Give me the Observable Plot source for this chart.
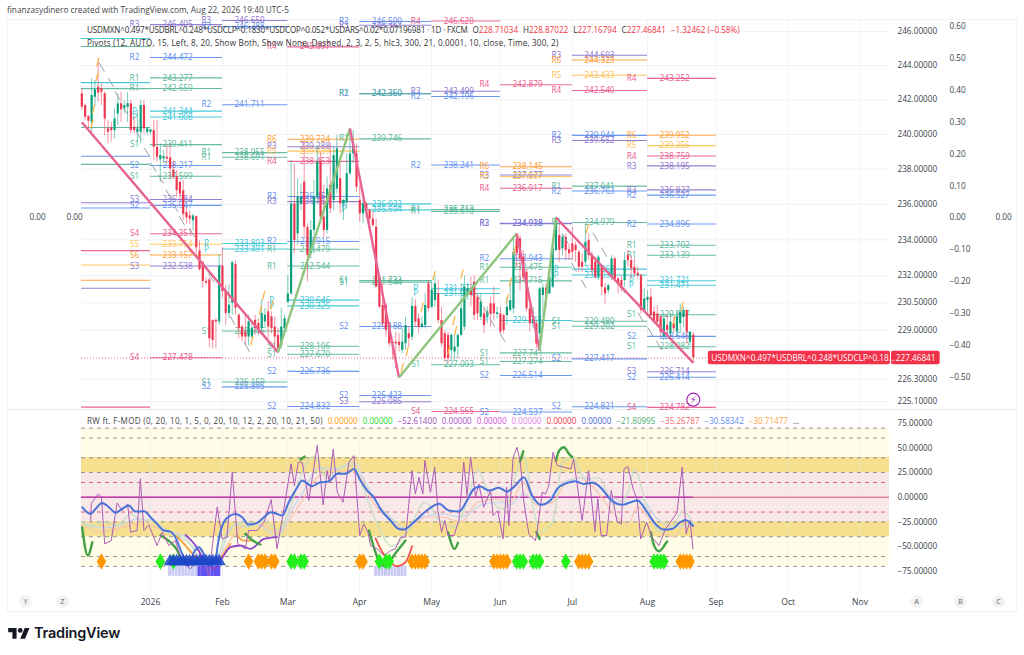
<!DOCTYPE html>
<html><head><meta charset="utf-8">
<script src="https://cdn.jsdelivr.net/npm/d3@7"></script>
<script src="https://cdn.jsdelivr.net/npm/@observablehq/plot@0.6"></script>
<style>
html,body{margin:0;padding:0;background:#fff;width:1024px;height:655px;overflow:hidden}
body{font-family:"Open Sans","Liberation Sans",sans-serif;color:#3a3f4b;position:relative}
.abs{position:absolute;white-space:nowrap}
.pane{position:absolute;left:0}
.pane svg{background:transparent;display:block;overflow:visible}
.btn{position:absolute;top:595px;width:13px;height:13px;border-radius:50%;background:#f2f3f5;color:#666;font-size:7.5px;line-height:13px;text-align:center}
.red{color:#f23645}
</style></head><body>
<div class="abs" style="left:7px;top:4px;font-size:8.28px;color:#444">finanzasydinero created with TradingView.com, Aug 22, 2026 19:40 UTC-5</div>
<div class="abs" style="left:7px;top:19px;width:1010px;height:593px;border:1px solid #f0f3fa;box-sizing:border-box"></div>
<div class="abs" style="left:7px;top:409px;width:1010px;height:1px;background:#e6e8ee"></div>
<div id="price" class="pane" style="top:19px"></div>
<div id="side" class="pane" style="top:19px"></div>
<div id="osc" class="pane" style="top:409px"></div>
<div class="abs" style="left:87px;top:24px;font-size:8.1px;color:#333;display:flex;gap:5px"><span style="letter-spacing:-.17px">USDMXN^0.497*USDBRL^0.248*USDCLP^0.1830*USDCOP^0.052*USDARS^0.02*0.07196981 · 1D · FXCM</span><span>O<span class="red">228.71034</span></span><span>H<span class="red">228.87022</span></span><span>L<span class="red">227.16794</span></span><span>C<span class="red">227.46841</span></span><span class="red">−1.32462 (−0.58%)</span></div>
<div class="abs" style="left:87px;top:37px;font-size:8.2px;color:#333;letter-spacing:.16px">Pivots (12, AUTO, 15, Left, 8, 20, Show Both, Show None, Dashed, 2, 3, 2, 5, hlc3, 300, 21, 0.0001, 10, close, Time, 300, 2)</div>
<div id="oscLegend" class="abs" style="left:87px;top:415px;font-size:8.1px;color:#444;display:flex;gap:5px"></div>
<div class="btn" style="left:19px">Y</div><div class="btn" style="left:56px">Z</div>
<div class="btn" style="left:910px">A</div><div class="btn" style="left:954px">B</div><div class="btn" style="left:992px">C</div>
<svg class="abs" style="left:8px;top:628px" width="22" height="12" viewBox="0 0 36 20"><path fill="#131722" d="M14 18H7V7H0V0h14v18zM28 18h-8L27.5 0h8L28 18z"/><circle cx="20" cy="4" r="4" fill="#131722"/></svg>
<div class="abs" style="left:34px;top:624px;font-size:14.5px;font-weight:600;color:#131722;font-family:Inter,'Open Sans',sans-serif;letter-spacing:-.2px">TradingView</div>
<script>
const FONT='"Open Sans","Liberation Sans",sans-serif';
// ---------- candles: bar 0 = 1 Jan 2026, trading days only ----------
const firstBar=-21;
const opens=[242.35,241.67,241.03,240.70,242.15,242.74,242.64,242.35,240.32,240.38,
240.22,241.18,241.77,241.47,241.57,241.77,240.41,240.12,240.12,241.67,
240.12,240.12,240.22,239.26,238.54,238.59,238.69,238.65,237.96,237.58,
237.25,236.78,235.54,235.35,235.08,235.31,233.38,232.72,231.68,231.77,
229.53,229.53,229.44,232.53,231.12,229.91,230.47,232.62,229.81,229.16,
228.88,228.61,228.61,229.53,229.35,229.07,229.44,230.00,229.72,229.16,
228.70,228.14,229.07,230.53,230.99,236.03,234.34,236.03,237.27,234.71,
233.22,234.53,236.41,238.40,235.28,234.53,237.08,236.22,236.88,237.46,
236.03,236.12,237.74,238.88,238.88,236.22,235.47,236.03,235.66,235.18,
234.71,231.83,230.35,230.35,229.33,228.33,228.33,228.33,227.88,228.24,
228.79,228.60,230.30,229.61,229.15,229.24,231.55,230.26,230.62,230.99,
229.52,228.79,228.70,227.88,227.79,228.06,228.70,229.15,230.89,231.27,
231.64,230.80,229.70,229.89,229.70,230.44,230.44,229.85,229.88,229.79,
229.79,230.07,230.16,234.06,234.06,233.03,232.19,230.16,229.34,229.34,
228.79,230.90,231.32,230.99,231.36,233.41,234.25,233.50,234.15,233.45,
233.78,233.69,233.31,232.75,232.75,233.97,233.12,232.75,231.91,232.47,
231.32,231.17,232.00,232.94,231.82,231.73,231.73,233.12,232.84,232.47,
232.13,232.00,230.07,230.62,230.80,229.98,229.88,229.70,228.61,229.25,
228.79,229.34,228.88,229.34,229.70,230.07,228.33,228.71034];
const highs=[242.64,241.77,241.09,243.22,243.12,244.39,242.93,242.44,240.80,240.70,
241.47,242.35,242.44,241.96,242.44,241.96,240.99,241.38,241.96,241.96,
240.41,240.30,240.80,240.80,239.45,239.07,239.36,239.36,238.50,237.92,
237.35,237.35,235.83,235.64,235.44,235.35,233.94,232.82,231.87,231.87,
229.53,229.62,233.19,233.56,231.49,231.49,232.82,232.82,229.91,229.25,
229.81,229.81,229.44,229.81,229.62,230.65,230.19,230.56,230.00,229.72,
229.07,230.19,229.81,232.01,238.50,238.31,237.46,237.17,239.65,234.90,
235.09,237.36,239.36,238.98,237.08,237.55,239.46,239.26,239.94,238.69,
236.32,238.88,240.22,240.22,239.46,237.08,236.22,236.12,235.75,235.56,
235.18,231.92,231.55,230.45,229.43,228.42,228.88,228.79,229.06,229.70,
229.15,230.80,230.67,229.89,229.70,231.00,231.74,231.74,232.00,231.74,
230.26,228.97,228.88,228.79,228.79,228.79,231.55,232.00,231.55,231.92,
232.00,230.99,230.99,230.17,230.26,230.80,231.36,230.26,230.25,229.88,
230.80,231.54,234.06,234.34,234.25,233.41,232.38,230.43,230.25,229.52,
231.36,231.54,231.54,232.47,233.78,235.28,234.81,234.34,234.34,233.78,
234.72,233.87,233.41,233.22,234.81,234.34,233.31,233.03,233.12,232.56,
231.54,231.54,233.12,233.03,231.91,232.00,233.31,233.41,233.12,232.94,
232.47,232.10,231.27,231.17,231.27,230.25,230.34,229.79,229.88,229.79,
229.88,229.70,230.07,230.43,230.25,230.11,228.88,228.87022];
const lows=[241.38,240.80,240.32,239.93,241.57,241.86,241.67,239.93,239.45,239.55,
239.74,240.51,240.70,241.18,240.70,240.03,240.03,239.55,239.45,240.03,
239.93,239.98,238.50,238.41,237.25,238.31,238.31,237.44,237.44,236.40,
236.21,235.08,234.89,234.89,234.51,233.19,232.25,231.31,231.49,228.05,
227.96,227.96,229.25,230.75,229.25,229.62,229.81,229.81,228.51,228.33,
228.14,228.14,228.51,228.70,228.70,228.70,229.07,228.51,228.79,228.05,
227.77,227.96,228.98,230.44,230.89,233.22,233.69,235.65,234.06,231.64,
232.94,233.22,236.03,235.09,234.15,234.34,235.47,235.65,236.60,235.47,
235.09,235.75,237.65,238.31,236.70,234.99,234.90,235.18,234.90,234.71,
231.36,230.17,229.15,228.60,228.06,227.34,226.89,227.79,227.70,227.88,
228.06,228.42,229.15,228.79,229.06,229.06,230.00,230.17,230.26,229.33,
228.06,227.25,227.16,227.34,227.34,227.43,228.60,228.97,230.62,230.26,
229.52,229.52,229.52,228.79,229.33,229.15,229.52,229.61,228.79,228.79,
229.25,229.98,229.88,232.47,231.17,231.64,229.98,228.88,229.06,227.97,
227.97,229.79,230.25,230.94,231.27,233.31,232.75,233.12,232.84,232.84,
232.84,232.75,232.19,232.19,232.47,232.84,232.10,231.82,231.73,230.90,
230.43,230.99,231.73,231.64,230.99,231.08,231.36,232.47,231.82,231.91,
231.82,229.88,229.98,229.98,229.70,229.34,229.15,228.61,228.42,228.61,
228.61,228.79,228.61,228.79,229.15,228.24,228.15,227.16794];
const closes=[241.57,240.99,240.76,242.25,242.58,242.38,242.44,240.89,240.12,240.22,
240.89,241.77,241.42,241.67,241.77,240.22,240.22,240.32,241.67,240.32,
240.32,240.26,239.26,238.69,238.79,238.73,238.59,238.02,237.54,236.78,
236.59,235.44,235.25,235.17,235.35,233.56,232.34,231.68,231.59,228.51,
228.42,229.44,232.53,231.12,229.91,230.37,232.72,230.19,229.07,228.61,
228.61,229.44,229.07,229.07,228.98,229.91,229.81,229.16,229.07,228.61,
227.96,229.16,229.62,230.99,236.03,233.97,236.41,236.41,234.71,233.13,
234.53,236.41,238.40,235.28,234.53,236.88,235.75,238.78,239.17,236.03,
236.22,237.74,238.88,239.46,236.98,235.47,236.03,235.66,235.18,234.81,
231.36,230.26,229.33,228.97,228.24,228.24,228.24,228.15,228.33,229.24,
228.51,230.30,229.43,229.15,229.33,230.35,230.17,231.18,231.55,229.52,
228.24,227.43,227.43,228.70,228.06,228.70,230.17,231.36,231.27,230.89,
229.80,229.89,230.53,229.24,230.00,229.85,229.89,229.94,228.88,228.97,
230.25,230.62,233.31,233.22,232.94,231.91,230.16,229.34,229.70,228.24,
231.27,231.32,230.95,231.91,233.50,235.19,233.41,234.15,233.41,233.22,
233.31,233.41,232.47,232.47,233.87,233.12,232.29,231.91,233.03,231.36,
230.99,231.45,232.94,231.82,231.54,231.27,232.84,232.84,232.38,232.10,
232.00,230.07,230.71,230.80,229.79,229.43,229.43,228.88,229.61,228.97,
229.43,229.06,229.70,229.98,230.07,228.88,228.88,227.46841];
const lastClose=227.46841;
// ---------- zigzag ----------
const zigBars=[-21,39,61,76,112,119,124,166];
const zigPrices=[240.70,227.77,240.34,226.4,234.36,227.87,235.26,227.2];
const grayMarks=[[-14.9,243.9],[-12.1,243.0],[-10.1,242.25],[-7.7,241.38],[-3.6,239.93],[-1.1,238.98],[0.9,238.12],[3.2,237.44],[5.5,236.59],[7.6,235.83],[9.6,235.08],[12.7,234.4],[18.6,231.87],[25.1,229.53],[29.5,228.05],[100.4,230.8],[102.5,230.07],[104.5,229.42],[107.6,228.6],[126.9,234.06],[129.5,232.47],[132.5,231.54],[136.1,234.15],[138.7,233.31],[144.3,231.27],[149.9,229.7],[152.9,228.88],[155.5,228.15]];
const orangeMarks=[[-16.1,244.2],[-16.4,243.32],[-17.4,241.47],[-17.9,240.6],[34.6,230.9],[33.6,230.1],[31,228.4],[37.1,230.37],[77,226.93],[78.5,227.83],[86.7,232],[92.8,229.52],[93.3,228.97],[95.3,232.1],[91.2,227.88],[83.1,230.26],[109.1,230.71],[110.1,231.64],[111.3,233.41],[133.6,234.62],[162.6,230.3],[160.1,229.5]];
// ---------- pivots by month ----------
const monthBars=[0,22,42,64,86,107,129,152,173,195,217];
const monthLabels=["2026","Feb","Mar","Apr","May","Jun","Jul","Aug","Sep","Oct","Nov"];
const decPivots=[["P",245.59],["R1",245.12],["P",243.0],["R1",242.65],["S1",240.4],["S2",238.75],["S1",238.28],["S3",236.1],["S2",235.8],["S4",233.4],["S5",232.6],["S6",231.75],["S3",231.3],["S4",224.8]];
const janPivots=[["R3",246.405],["R2",244.472],["R1",243.277],["R1",242.659],["P",241.344],["P",241.008],["S1",239.411],["S2",238.217],["S1",237.599],["S3",236.284],["S2",235.947],["S4",234.351],["S5",233.754],["S6",233.157],["S3",232.538],["S4",227.478]];
const febPivots=[["R3",246.650],["R2",246.288],["R2",241.711],["R1",238.955],["R1",238.691],["P",233.803],["P",233.491],["S1",228.945],["S1",226.159],["S2",225.895]];
const marPivots=[["R4",245.097],["R6",239.724],["R3",239.288],["R5",239.039],["R4",238.453],["R2",236.454],["R3",236.158],["R2",233.915],["R1",233.479],["R1",232.544],["P",230.646],["P",230.325],["S1",228.106],["S1",227.670],["S2",226.736],["S2",224.832]];
const aprPivots=[["R2",246.590],["R3",246.367],["R2",242.360],["R1",242.350],["R1",239.746],["P",236.032],["P",235.694],["S1",231.733],["S1",231.644],["S2",229.188],["S2",225.423],["S3",225.085]];
const mayPivots=[["R4",246.620],["R3",242.499],["R2",242.196],["R2",238.241],["R1",235.713],["R1",235.610],["P",231.273],["P",231.014],["S1",227.093],["S4",224.565]];
const junPivots=[["R4",242.879],["R6",238.145],["R3",237.677],["R5",237.587],["R4",236.917],["R2",234.938],["R3",234.918],["R2",232.943],["R1",232.475],["R1",231.715],["P",229.516],["S1",227.741],["S1",227.274],["S2",226.514],["S2",224.537]];
const julPivots=[["R3",244.603],["R6",244.323],["R5",243.433],["R4",242.540],["R2",239.944],["R3",239.652],["R1",237.041],["R2",236.763],["R1",234.979],["P",232.368],["P",232.038],["S1",229.480],["S1",229.202],["S2",227.417],["S2",224.821]];
const augPivots=[["R4",243.252],["R6",239.952],["R5",239.356],["R4",238.759],["R3",238.195],["R3",236.827],["R2",236.527],["R2",234.896],["R1",233.702],["R1",233.139],["P",231.721],["P",231.471],["S1",229.837],["S2",228.646],["S1",228.082],["S3",226.714],["S2",226.414],["S4",224.782]];
const pivotColumns=[[decPivots,firstBar-0.1,0,false],[janPivots,0,22,true],[febPivots,22,42,true],[marPivots,42,64,true],[aprPivots,64,86,true],[mayPivots,86,107,true],[junPivots,107,129,true],[julPivots,129,152,true],[augPivots,152,173,true]];
// ---------- axes ----------
const priceTicks=[246,244,242,240,238,236,234,232,230.5,229,226.3,225.1];
const sideTicks=[0.6,0.5,0.4,0.3,0.2,0.1,0,-0.1,-0.2,-0.3,-0.4,-0.5];
const oscTicks=[75,50,25,0,-25,-50,-75];
// ---------- oscillator ----------
const oscLevels=[70,60,40,25,15,-15,-25,-40,-60,-70];
const rawWave=[[-18.3,-23.6],[-18.1,-6.7],[-16,3.4],[-15,0],[-14,-47.2],[-12,-43.9],[-10.2,-5.7],[-8.7,-13.5],[-7,-6.7],[-6.1,-35.4],[-4.1,-33.7],[-3.1,18.6],[-2,-33.7],[-0.5,-28],[2,-49],[3.6,-35.4],[5.6,-49],[7.6,-43.9],[9.7,-65.8],[12.2,-72.6],[15.3,-59],[17.8,-79.3],[20.4,-10.1],[21.9,-42.2],[23.4,-40.5],[25,25.4],[26.7,-47.2],[29,-52.3],[30,-33.7],[32.6,-33.7],[34.7,-25.3],[36.9,-2.3],[38.7,-52.3],[40.8,-11.8],[43,33.8],[44,11.9],[45.2,35.5],[46.4,35.5],[48.4,-3.3],[51,52.4],[52.8,-7.7],[54,27],[54.7,15.2],[55.9,49],[57.1,5.1],[58.9,-5],[60.7,35.5],[62.2,42.2],[64,-38.8],[65.2,-27],[66.5,-35.4],[67.3,-49],[69.3,-52.3],[71.4,-59],[73.4,-54],[74.9,-52.3],[76.5,-40.5],[78,-40.5],[80,27],[81,3.4],[82.1,20.3],[83.3,3.4],[83.9,37.2],[85.6,5.1],[86.9,30.4],[87.9,-13.5],[89,-35.4],[90,-23.6],[91,-38.8],[92.8,-38.8],[94.3,-23.6],[95.8,35.5],[96.8,1.7],[97.9,40.6],[99.4,0],[100.4,13.5],[101.9,-10.1],[104,6.8],[104.8,-18.5],[106.2,-13.5],[107.8,-42.2],[108.9,10.2],[109.6,-28.7],[110.9,40.6],[112.1,50.7],[113.1,35.5],[114.2,-5],[115.7,-37.1],[117.7,-43.9],[118.2,-35.4],[119.8,5.1],[120.8,3.4],[121.8,11.9],[123.1,45.6],[124.4,32.1],[128.6,28.7],[129.4,38.9],[132,-23.6],[134,27],[135.9,-34.8],[136.8,-1.7],[137.8,-38.8],[139.5,-38.8],[140.9,6.8],[142.7,-25.3],[144,-27],[144.8,28.7],[146,31.1],[147.6,8.5],[148.9,-3.3],[149.9,-42.2],[151.7,-25.3],[153.4,-40.5],[155.5,-49],[157.5,-32.1],[159,-25.3],[161,-15.8],[162.6,30.4],[163.8,-37.1],[165,-23.6],[165.9,-52.3]];
const blueWave=[[-20.9,-10.1],[-18.3,-16.9],[-16.8,-11.8],[-14.8,-5.7],[-12.7,-10.1],[-10.7,-15.8],[-8.7,-11.8],[-6.6,-8.4],[-4.6,-14.5],[-2,-14.2],[0,-20.2],[2,-27],[4.1,-33.7],[6.1,-34.8],[7.6,-40.5],[9.7,-57.4],[11.7,-69.2],[13.3,-55.7],[14.8,-50.6],[16.3,-57.4],[17.8,-69.2],[19.9,-65.8],[20.4,-52.3],[22.4,-25.3],[24.5,-18.5],[26,-16.9],[28,-20.2],[30,-27.7],[32.6,-26],[34.7,-20.2],[36.7,-15.2],[38.7,-16.9],[40.3,-18.5],[42.3,-5],[44.9,10.2],[46.4,16.9],[49.4,11.2],[52,15.2],[54.5,15.9],[57.1,23.7],[59.6,23.7],[62.2,28.7],[64.2,16.9],[66.3,6.8],[68.3,0],[70.3,-11.8],[73.4,-23.6],[75.9,-32.1],[77.4,-32.7],[80.5,-25.3],[84.1,-14.5],[88.3,-6.7],[91.2,-13.5],[94.3,-14.5],[96.8,-3.3],[98.9,8.5],[100.9,10.8],[103.5,6.8],[106.5,9.5],[109,5.8],[111.6,11.9],[114.2,20.3],[116.7,1.7],[119.3,-7.7],[122.3,-3.3],[124.4,8.5],[127.5,14.6],[129.9,16.2],[132.5,13.5],[135,14.6],[137.6,10.2],[140.7,-2.3],[144.3,-7.7],[148.9,-3.3],[151.9,-15.2],[154.4,-27],[157,-32.7],[159.5,-32.1],[162,-25.3],[163.6,-23],[165.9,-29]];
const greenRuns=[[[-20.9,-30.4],[-19.2,-59],[-17.8,-45.6]],[[3.1,-38.8],[6.1,-45.6],[8.2,-54],[9.7,-65.8]],[[29,-37.1],[30.6,-42.2],[33.6,-47.9]],[[45.9,38.2],[47.1,41.2]],[[66.8,-33.7],[68.8,-55.7],[70.3,-67.5],[71.9,-69.9],[74.4,-59],[78,-43.9]],[[91,-35.4],[93,-52.3],[94,-46.2]],[[113,36.2],[114,46.6]],[[118,-35.4],[119,-42.2]],[[124,37.2],[125,47.3],[126.4,50.7],[128,43.9],[129,40.6]],[[153,-35.4],[154,-49],[155.5,-54.7],[157.5,-47.2],[158,-44.9]]];
const redRuns=[[[68.8,-41.5],[70.9,-55.7],[72.9,-64.1],[75.4,-69.9],[78,-65.8],[80,-49.6]]];
const orangeRuns=[[[7.6,-38.8],[10.2,-47.2],[13.3,-59],[15.3,-65.8]],[[20.4,-65.8],[22.4,-57.4],[24.5,-47.2]],[[26.5,-38.8],[28.5,-43.9],[31.6,-43.9]]];
const purpleRuns=[[[10.7,-38.1],[13.8,-49],[16.8,-65.8],[19.4,-72.6],[21.4,-64.1],[24.5,-50.6],[27.5,-48.9],[30.6,-52.3],[34.7,-42.2],[38.7,-40.5]]];
const paleGreen=[[-21,-25],[-18,-30],[-15,-25],[-10,-28],[-6,-17],[-3,-23],[0,-23],[4,-34],[8,-38],[14,-52],[20,-62],[23,-38],[26,-28],[30,-30],[35,-24],[39,-34],[43,-8],[47,30],[50,42],[54,20],[58,30],[62,32],[65,10],[69,-25],[74,-50],[79,-32],[84,-5],[88,-22],[93,-30],[97,-2],[100,28],[104,-2],[108,-12],[112,25],[114,43],[117,-10],[119,-35],[123,-25],[126,35],[129,40],[133,18],[137,20],[142,-8],[146,5],[148,28],[152,-12],[156,-35],[160,-28],[163,-14],[166,-28]];
const paleBlue=[[-21,-25],[-15,-31],[-10,-29],[-4,-22],[1,-24],[5,-34],[10,-39],[15,-60],[20,-66],[24,-35],[28,-25],[33,-28],[39,-39],[43,-14],[47,7],[51,29],[57,29],[62,36],[65,20],[69,-5],[74,-22],[78,-32],[83,-20],[89,-17],[95,-20],[101,-8],[107,-5],[110,-8],[114,3],[120,-8],[126,15],[133,20],[140,2],[146,-5],[150,-2],[155,-22],[160,-30],[166,-27]];
const paleSalmon=[[-21,-28],[-15,-35],[-8,-30],[-2,-25],[3,-33],[9,-42],[14,-60],[20,-64],[24,-45],[28,-30],[34,-28],[39,-36],[43,-20],[47,0],[51,20],[58,27],[63,25],[68,-5],[74,-25],[78,-33],[84,-20],[89,-20],[95,-25],[100,-5],[106,-2],[110,-5],[114,15],[118,-8],[123,-5],[127,15],[131,20],[136,8],[142,-18],[146,-27],[149,-10],[154,-28],[160,-40],[164,-25],[166,-30]];
const orangeDiamonds=[-15,30,33,34,35,37,38,64,65,80,81,82,83,84,105,106,107,108,109,131,132,133,134,162,163,164,165];
const limeDiamonds=[3,7,43,44,46,47,70,72,73,112,113,114,117,118,119,127,154,155,156,157];
const triangleBars=[6,7,8,9,10,11,12,13,14,15,16,17,18,19,20,21];
const paleSquares=[6,7,8,9,10,11,12,13,14,69,70,71,72,73,74,75,76,77,78];
const strongSquares=[15,16,17,18,19,20,21];
const oscValues=[["0.00000","#ff9800"],["0.00000","#22e01d"],["−52.61400","#9c4fb5"],["0.00000","#a64fc9"],["0.00000","#d64fd6"],["0.00000","#e37ee3"],["0.00000","#f23645"],["0.00000","#4a63d8"],["−21.80995","#4caf70"],["−35.26787","#f2686e"],["−30.58342","#5b8def"],["−30.71477","#ff9f43"]];
// ---------- styling maps ----------
const levelColor={P:"#35c4d4",R1:"#55b597",S1:"#55b597",R2:"#5b8def",S2:"#5b8def",R3:"#8b72cc",S3:"#8b72cc",R4:"#e9588c",S4:"#e9588c",R5:"#ffc14f",S5:"#ffc14f",R6:"#ff9b2f",S6:"#ff9b2f"};
const GREEN="#0b9f7c",RED="#ee3850";
const barDomain=[-21.1,226];
const candles=closes.map((c,i)=>({bar:firstBar+i,o:opens[i],h:highs[i],l:lows[i],c}));
const pivots=pivotColumns.flatMap(([list,a,b,show])=>list.map(([k,v])=>({k,v,a,b,show})));
const labelled=pivots.filter(d=>d.show);
const zig=zigBars.map((b,i)=>({b,p:zigPrices[i]}));
const zigSegs=zig.slice(1).map((d,i)=>({a:zig[i],b:d,up:d.p>zig[i].p}));
const minus=s=>s.replace("-","−");
document.getElementById("price").append(Plot.plot({
  width:1024,height:390,marginTop:0,marginBottom:0,marginLeft:81,marginRight:135,
  style:{background:"transparent",fontFamily:FONT,fontSize:"8.2px",overflow:"visible"},
  x:{domain:barDomain,axis:null},
  y:{type:"log",domain:[224.67,246.71],axis:null},
  marks:[
    Plot.gridY(priceTicks,{stroke:"#e8eaf0",strokeOpacity:.6}),
    Plot.gridX(monthBars,{stroke:"#e8eaf0",strokeOpacity:.6}),
    Plot.axisY({anchor:"right",ticks:priceTicks,tickFormat:d=>d.toFixed(5),tickSize:0,tickPadding:8,label:null,fontSize:8.2,color:"#3a3f4b"}),
    Plot.ruleY(pivots,{y:"v",x1:"a",x2:"b",stroke:d=>levelColor[d.k],strokeWidth:1.1,strokeOpacity:.9}),
    Plot.text(labelled,{x:"a",y:"v",text:"k",dx:-16,fill:d=>levelColor[d.k],fontSize:8.2}),
    Plot.text(labelled,{x:"a",y:"v",text:d=>d.v.toFixed(3),dx:12,textAnchor:"start",fill:d=>levelColor[d.k],fontSize:8.2}),
    Plot.ruleY([lastClose],{x1:barDomain[0],x2:170.6,stroke:RED,strokeDasharray:"1,2",strokeWidth:1,strokeOpacity:.75}),
    Plot.ruleX(candles,{x:"bar",y1:"l",y2:"h",stroke:d=>d.c>=d.o?GREEN:RED,strokeWidth:.9,strokeOpacity:.6}),
    Plot.ruleX(candles,{x:"bar",y1:"o",y2:"c",stroke:d=>d.c>=d.o?GREEN:RED,strokeWidth:2.2}),
    Plot.link(grayMarks,{x1:d=>d[0]-.8,x2:d=>d[0]+.8,y1:d=>d[1]+.25,y2:d=>d[1]-.25,stroke:"#9aa0a8",strokeWidth:1}),
    Plot.link(orangeMarks,{x1:d=>d[0]-.35,x2:d=>d[0]+.35,y1:d=>d[1]-.25,y2:d=>d[1]+.25,stroke:"#ffb13d",strokeWidth:1.2}),
    Plot.link(zigSegs,{x1:d=>d.a.b,x2:d=>d.b.b,y1:d=>d.a.p,y2:d=>d.b.p,stroke:d=>d.up?"#8fc47c":"#e8628f",strokeWidth:2.4}),
    Plot.dot([[166,225.2]],{x:d=>d[0],y:d=>d[1],r:6.5,fill:"#fff",stroke:"#9c27b0",strokeWidth:1.2}),
    Plot.text([[166,225.2]],{x:d=>d[0],y:d=>d[1],text:()=>"⚡",fill:"#9c27b0",fontSize:9.5,fontFamily:"DejaVu Sans"}),
    Plot.rect([[170.6,226.3]],{x1:d=>d[0],x2:d=>d[1],y1:lastClose-.37,y2:lastClose+.37,fill:"#f0324a",rx:2}),
    Plot.rect([[226.6,241.5]],{x1:d=>d[0],x2:d=>d[1],y1:lastClose-.37,y2:lastClose+.37,fill:"#f0324a",rx:2}),
    Plot.text(["USDMXN^0.497*USDBRL^0.248*USDCLP^0.18…"],{x:171.5,y:lastClose,text:d=>d,textAnchor:"start",fill:"#fff",fontSize:8.2}),
    Plot.text([lastClose],{x:234,y:d=>d,text:d=>d.toFixed(5),fill:"#fff",fontSize:8.2})
  ]}));
document.getElementById("side").append(Plot.plot({
  width:1024,height:390,marginTop:0,marginBottom:0,marginLeft:0,marginRight:0,
  style:{background:"transparent",fontFamily:FONT,fontSize:"8.2px",pointerEvents:"none"},
  x:{axis:null},
  y:{domain:[-0.5,0.6],range:[358,6.7],axis:null},
  marks:[
    Plot.text(sideTicks,{y:d=>d,frameAnchor:"left",dx:949,text:d=>minus(d.toFixed(2)),textAnchor:"start",fill:"#3a3f4b",fontWeight:d=>d===0||Math.abs(d)===0.5?600:400}),
    Plot.text([0],{y:d=>d,frameAnchor:"left",dx:29,text:d=>d.toFixed(2),fill:"#3a3f4b"}),
    Plot.text([0],{y:d=>d,frameAnchor:"left",dx:66,text:d=>d.toFixed(2),fill:"#3a3f4b"}),
    Plot.text([0],{y:d=>d,frameAnchor:"left",dx:995,text:d=>d.toFixed(2),fill:"#3a3f4b"})
  ]}));
const runs=(list,color,w)=>list.map(r=>Plot.line(r,{x:d=>d[0],y:d=>d[1],stroke:color,strokeWidth:w,curve:"monotone-x"}));
document.getElementById("osc").append(Plot.plot({
  width:1024,height:203,marginTop:0,marginBottom:20,marginLeft:81,marginRight:135,
  style:{background:"transparent",fontFamily:FONT,fontSize:"8.2px"},
  x:{domain:barDomain,axis:null},
  y:{domain:[-96.5,88.9],axis:null},
  marks:[
    Plot.rect([[25,70],[-25,-70]],{x1:barDomain[0],x2:barDomain[1],y1:d=>d[0],y2:d=>d[1],fill:"#fffde8"}),
    Plot.rect([[-25,25]],{x1:barDomain[0],x2:barDomain[1],y1:d=>d[0],y2:d=>d[1],fill:"#f8e8e8"}),
    Plot.rect([[25,40],[-40,-25]],{x1:barDomain[0],x2:barDomain[1],y1:d=>d[0],y2:d=>d[1],fill:"#f6df8e"}),
    Plot.gridX(monthBars,{stroke:"#e8eaf0",strokeOpacity:.5}),
    Plot.ruleY(oscLevels,{stroke:d=>Math.abs(d)===15?"#d9536f":"#8a8a7a",strokeDasharray:"4,4",strokeWidth:.9}),
    Plot.ruleY([0],{stroke:"#d9536f",strokeWidth:1}),
    Plot.ruleY([0],{x1:barDomain[0],x2:166,stroke:"#c13bb0",strokeWidth:1.6}),
    Plot.axisY({anchor:"right",ticks:oscTicks,tickFormat:d=>minus(d.toFixed(5)),tickSize:0,tickPadding:8,label:null,fontSize:8.2,color:"#3a3f4b"}),
    Plot.axisX({anchor:"bottom",ticks:monthBars,tickFormat:d=>monthLabels[monthBars.indexOf(d)],tickSize:0,tickPadding:6,label:null,fontSize:8.6,color:"#3a3f4b",fontWeight:d=>d===0?700:400}),
    Plot.rect(paleSquares,{x1:d=>d-.5,x2:d=>d+.5,y1:-70,y2:-80.3,fill:"#c3c3f5",stroke:"#fff",strokeWidth:.3,fillOpacity:.9}),
    Plot.rect(strongSquares,{x1:d=>d-.5,x2:d=>d+.5,y1:-70,y2:-80.3,fill:"#4433ee",fillOpacity:.85}),
    ...[[paleSalmon,"#f6c9ae"],[paleBlue,"#c9d8ea"],[paleGreen,"#c8dec6"]].map(([r,c])=>Plot.line(r,{x:d=>d[0],y:d=>d[1],stroke:c,strokeWidth:1.6,curve:"monotone-x",strokeOpacity:.85})),
    ...runs(orangeRuns,"#f5a142",1.8),
    ...runs(purpleRuns,"#8e44c9",1.8),
    ...runs(redRuns,"#ef5350",1.8),
    ...runs(greenRuns,"#43a047",2.4),
    Plot.line(rawWave,{x:d=>d[0],y:d=>d[1],stroke:"#ad5cb8",strokeWidth:1}),
    Plot.line(blueWave,{x:d=>d[0],y:d=>d[1],stroke:"#4a72d8",strokeWidth:2,curve:"monotone-x"}),
    Plot.dot(orangeDiamonds,{x:d=>d,y:-65,symbol:"diamond",r:5,fill:"#ff9800"}),
    Plot.dot(limeDiamonds,{x:d=>d,y:-65,symbol:"diamond",r:5,fill:"#22ef1b"}),
    Plot.dot(triangleBars,{x:d=>d,y:-65,symbol:"triangle",r:5,fill:"#1c46c8",fillOpacity:.85})
  ]}));
const leg=document.getElementById("oscLegend");
const lt=document.createElement("span");lt.textContent="RW ft. F-MOD (0, 20, 10, 1, 5, 0, 20, 10, 12, 2, 20, 10, 21, 50)";lt.style.letterSpacing=".27px";leg.append(lt);
oscValues.forEach(([t,c])=>{const s=document.createElement("span");s.textContent=t;s.style.color=c;leg.append(s)});
const el=document.createElement("span");el.textContent="…";leg.append(el);
</script>
</body></html>
